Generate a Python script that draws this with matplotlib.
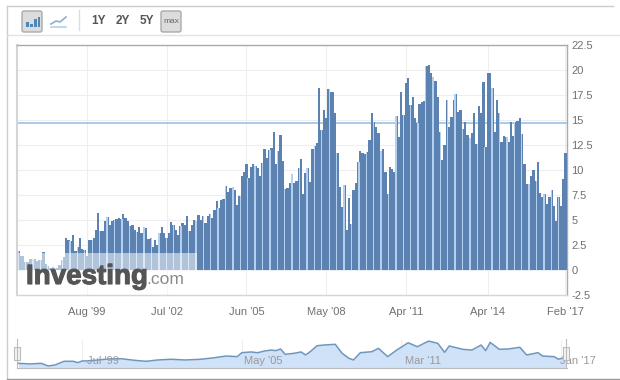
import matplotlib
matplotlib.use("Agg")
import matplotlib.pyplot as plt
import matplotlib.patheffects as pe
from matplotlib.patches import Rectangle, FancyBboxPatch

plt.rcParams['font.family'] = ['Liberation Sans', 'DejaVu Sans']

monthly_values = [
    1.9,1.4,1.4,0.8,0.8,1.1,1.1,1.1,0.9,1.0,1.0,1.8,0.6,0.4,0.2,0.3,0.2,0.2,0.5,1.0,
    1.3,3.2,3.0,2.9,3.5,1.9,2.3,3.2,2.1,2.0,1.4,3.0,3.0,3.2,4.0,5.7,3.9,3.9,4.9,5.3,
    4.5,4.9,5.0,5.1,5.2,5.1,5.6,5.2,4.9,4.4,4.5,4.0,3.8,4.3,3.7,4.3,4.2,3.1,3.2,2.3,
    3.0,2.5,3.7,4.3,3.7,3.2,3.7,4.8,4.5,4.0,3.5,4.4,4.7,4.5,5.4,3.9,4.5,5.0,4.9,5.5,
    5.0,5.4,4.7,5.4,5.6,5.2,6.0,6.9,6.2,7.0,7.1,8.4,7.8,8.2,8.3,8.0,6.5,7.4,9.4,9.8,
    10.6,9.2,10.3,10.6,10.4,10.2,9.4,10.7,12.1,11.2,12.0,12.2,13.8,10.6,11.9,13.5,10.9,8.1,8.2,8.7,
    9.6,8.7,8.9,10.2,11.1,7.6,9.7,10.2,8.8,12.1,12.4,12.7,18.2,14.0,16.0,15.2,18.1,17.8,17.8,15.7,
    11.7,8.3,6.3,8.5,4.0,7.2,4.6,8.0,8.7,10.8,11.9,11.7,11.6,11.8,13.0,15.7,14.8,14.3,13.7,11.9,
    12.1,9.8,7.6,10.3,10.1,9.8,15.4,13.3,17.8,15.5,18.7,19.2,16.5,17.3,15.2,14.7,16.6,16.8,16.9,20.4,
    20.5,19.7,19.3,18.9,17.3,13.8,11.0,12.5,17.0,14.3,15.3,17.0,17.6,15.8,16.0,14.1,14.8,13.5,13.2,13.7,
    15.7,12.6,16.4,15.7,18.8,12.3,19.7,19.7,18.2,13.8,17.0,15.7,12.8,13.4,13.3,12.8,14.8,13.4,14.8,14.9,
    15.2,13.6,10.6,8.6,8.6,9.4,10.0,8.9,10.8,7.7,7.3,7.6,6.6,7.3,8.0,6.4,4.9,7.3,6.4,9.1,11.7]
month_index = list(range(len(monthly_values)))
reference_level = 14.7
y_ticks = [-2.5,0,2.5,5,7.5,10,12.5,15,17.5,20,22.5]
y_tick_labels = ['-2.5','0','2.5','5','7.5','10','12.5','15','17.5','20','22.5']
x_ticks = [30,65,100,135,170,206,240]
x_tick_labels = ["Aug '99","Jul '02","Jun '05","May '08","Apr '11","Apr '14","Feb '17"]

nav_months = [0,5,10,13,16,20,24,26,28,30,35,39,45,51,56,61,67,73,80,86,91,96,98,102,105,108,111,113,115,117,121,124,126,128,
              131,134,139,142,145,147,150,155,158,162,166,171,175,180,184,187,189,195,199,203,205,207,211,215,220,223,228,230,235,237,240]
nav_values = [2.5,2.0,2.5,0.3,1.1,4.2,4.2,3.1,4.5,4.5,5.3,6.1,6.4,5.0,4.2,5.3,5.9,5.3,5.9,7.2,8.6,8.1,11.4,12.0,11.4,12.8,13.6,13.1,14.5,10.0,10.9,12.0,9.5,12.2,
              17.2,17.8,18.4,10.9,6.7,5.3,11.4,12.2,15.0,8.1,13.6,19.7,16.4,21.1,19.2,11.7,17.0,14.2,13.6,17.8,13.1,20.0,14.2,14.5,15.9,9.5,11.4,8.6,8.1,5.9,7.5]
nav_ticks = [28,98,168,238]
nav_labels = ["Jul '99","May '05","Mar '11","Jan '17"]

W, H = 620, 380
fig = plt.figure(figsize=(W/100, H/100), dpi=100, facecolor='white')

def px_axes(x0, y0, x1, y1, **kw):
    return fig.add_axes([x0/W, 1-y1/H, (x1-x0)/W, (y1-y0)/H], **kw)

XLIM = (-0.66, 240.7)
GRID = '#eeeeee'; TXT = '#707070'; BAR = '#5b82b0'; FRAME = '#aaaaaa'; GAP = '#b4d0f0'

# main chart
ax = px_axes(17, 45, 567, 295)
ax.set_xlim(*XLIM); ax.set_ylim(-2.5, 22.5)
ax.set_yticks(y_ticks, y_tick_labels)
ax.set_xticks(x_ticks, x_tick_labels)
ax.yaxis.tick_right()
ax.tick_params(axis='both', length=0, labelsize=8, labelcolor=TXT)
ax.tick_params(axis='y', pad=3)
ax.tick_params(axis='x', pad=8.5)
ax.grid(True, color=GRID, lw=0.8, zorder=0)
ax.set_axisbelow(True)
for side, sp in ax.spines.items():
    sp.set_color(FRAME if side in ('top', 'right') else '#d5d5d5')
    sp.set_linewidth(1.0)
ax.spines['left'].set_linewidth(1.5)
ax.axhline(reference_level, color='#a9cbe8', lw=1.4, zorder=1)
ax.bar(month_index, monthly_values, width=1.0, color=BAR, linewidth=0, zorder=3)

# pale resampling seams that run through the bars of the screenshot
seam = -0.15
while seam < month_index[-1]:
    nearest = min(max(round(seam), 0), month_index[-1])
    ax.bar(seam, monthly_values[nearest], width=0.6, color=GAP, linewidth=0, zorder=4)
    seam += 3.25

# navigator
nav = px_axes(17, 340, 567, 368)
nav.set_xlim(*XLIM); nav.set_ylim(-1.4, 22)
nav.set_xticks(nav_ticks)
nav.set_xticklabels([])
nav.set_yticks([])
nav.tick_params(length=0)
nav.grid(True, axis='x', color=GRID, lw=0.8)
nav.set_axisbelow(True)
nav.fill_between(nav_months, nav_values, -1.4, color='#cfe2f8', lw=0, zorder=2)
nav.plot(nav_months, nav_values, color='#7096bd', lw=1.1, zorder=3)
for sp in nav.spines.values():
    sp.set_visible(False)
nav.spines['bottom'].set_visible(True); nav.spines['bottom'].set_color('#bbbbbb')
for m, lab, off in zip(nav_ticks, nav_labels, [15, 15.5, 15.5, 12]):
    nav.annotate(lab, (m, 0), xytext=(off, 4), textcoords='offset points', ha='center', va='center',
                 fontsize=8, color='#999999', annotation_clip=False, zorder=4)

# page chrome in pixel coordinates
ov = fig.add_axes([0, 0, 1, 1], facecolor='none')
ov.set_xlim(0, W); ov.set_ylim(H, 0); ov.axis('off')
LINE = '#cccccc'
ov.plot([7, 7], [6, 379], color=LINE, lw=1.0)
ov.plot([7, 613], [6, 6], color=LINE, lw=1.0)
ov.plot([7, 620], [35, 35], color='#e2e2e2', lw=1.0)
ov.plot([7, 620], [379, 379], color='#999999', lw=1.0)

def button(x0, y0, x1, y1):
    ov.add_patch(FancyBboxPatch((x0, y0), x1-x0, y1-y0, boxstyle='round,pad=0,rounding_size=2',
                                fc='#dcdcdc', ec='#aaaaaa', lw=1.0))
button(22, 11, 42, 32)
button(161, 11, 181, 32)
for x0, top in [(26, 22), (30, 24), (34, 19), (37.5, 17)]:
    ov.add_patch(Rectangle((x0, top), 2.6, 27-top, fc='#4f86b8', ec='none'))
ov.plot([51, 56, 60, 66], [24, 21, 22, 17], color='#8ab0d2', lw=1.2)
ov.plot([51, 66], [27, 27], color='#b7cfe3', lw=1.2)
ov.plot([79, 79], [10, 30], color='#dddddd', lw=1.0)
for x, s in [(99, '1Y'), (123, '2Y'), (147, '5Y')]:
    ov.text(x, 21, s, fontsize=8.5, fontweight='bold', color='#555555', ha='center', va='center')
ov.text(171, 21.5, 'max', fontsize=6, color='#666666', ha='center', va='center')

# navigator handles
for x in (17, 566):
    ov.plot([x, x], [339, 368], color='#bbbbbb', lw=0.8)
    ov.add_patch(Rectangle((x-3, 347), 6, 13, fc='#f4f4f4', ec='#bbbbbb', lw=0.8))

# logo with translucent panel
ov.add_patch(Rectangle((18, 253), 179, 41, fc='white', ec='none', alpha=0.52))
logo = ov.text(26, 284, 'Investing', fontsize=20, fontweight='bold', color='#555555', ha='left', va='baseline')
logo.set_path_effects([pe.withStroke(linewidth=0.8, foreground='#555555')])
ov.text(146, 284, '.com', fontsize=12.5, color='#8a8a8a', ha='left', va='baseline')
ov.add_patch(Rectangle((106.5, 264), 4, 4, fc='#e8b84a', ec='none'))

fig.savefig('out.png', dpi=100)
